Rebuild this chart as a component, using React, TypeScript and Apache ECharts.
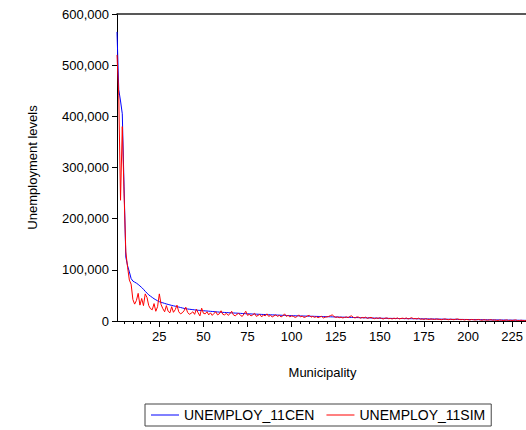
import React, { useEffect, useRef } from "react";
import * as echarts from "echarts";

const cenValues: number[] = [
  565000, 452000, 430000, 405000, 262000, 125000, 108000, 96000, 83000, 78000,
  76000, 74000, 71500, 68500, 65500, 62000, 58000, 54500, 51000, 48500,
  46000, 43500, 41500, 39500, 37800, 36600, 35500, 34400, 33300, 32400,
  31400, 30500, 29700, 28900, 28100, 27300, 26400, 25500, 24700, 24000,
  23500, 23000, 22600, 22200, 21800, 21400, 21000, 20700, 20400, 20100,
  19800, 19500, 19200, 18900, 18600, 18300, 18000, 17700, 17400, 17100,
  16900, 16700, 16500, 16300, 16100, 15900, 15700, 15500, 15300, 15100,
  14900, 14700, 14500, 14300, 14100, 13950, 13800, 13650, 13500, 13350,
  13200, 13050, 12900, 12750, 12600, 12450, 12300, 12150, 12000, 11850,
  11700, 11550, 11400, 11250, 11100, 10950, 10800, 10650, 10500, 10400,
  10300, 10200, 10100, 10000, 9900, 9800, 9700, 9600, 9500, 9400,
  9300, 9200, 9100, 9000, 8900, 8800, 8700, 8600, 8500, 8400,
  8300, 8200, 8100, 8000, 7900, 7800, 7700, 7600, 7500, 7400,
  7300, 7200, 7100, 7000, 6900, 6800, 6700, 6600, 6500, 6400,
  6300, 6200, 6100, 6000, 5900, 5800, 5700, 5600, 5500, 5400,
  5350, 5300, 5250, 5200, 5150, 5100, 5050, 5000, 4950, 4900,
  4850, 4800, 4750, 4700, 4650, 4600, 4550, 4500, 4450, 4400,
  4350, 4300, 4250, 4200, 4150, 4100, 4050, 4000, 3950, 3900,
  3850, 3800, 3750, 3700, 3650, 3600, 3550, 3500, 3450, 3400,
  3350, 3300, 3250, 3200, 3150, 3100, 3050, 3000, 2950, 2900,
  2850, 2800, 2750, 2700, 2650, 2600, 2550, 2500, 2450, 2400,
  2350, 2300, 2250, 2200, 2150, 2100, 2050, 2000, 1950, 1900,
  1850, 1800, 1750, 1700, 1650, 1600, 1550, 1500, 1450, 1400,
  1350, 1300, 1250, 1200,
];

const simValues: number[] = [
  520000, 440000, 236000, 380000, 250000, 135000, 105000, 80000, 72000, 42000,
  33000, 40000, 54000, 31000, 44000, 30000, 53000, 46000, 30000, 24000,
  22000, 34000, 19000, 28000, 53000, 32000, 24000, 18000, 30000, 19000,
  16000, 28000, 17000, 22000, 31000, 18000, 14000, 16000, 20000, 27000,
  17000, 13000, 15000, 18000, 13000, 23000, 16000, 10000, 25000, 15000,
  14000, 18000, 12000, 16000, 11000, 15000, 18000, 12000, 14000, 20000,
  13000, 12000, 15000, 11000, 14000, 19000, 12000, 10000, 13000, 15000,
  11000, 9000, 14000, 19000, 11000, 13000, 10000, 12000, 15000, 9000,
  11000, 13000, 8000, 12000, 10000, 14000, 9000, 11000, 8000, 10000,
  12000, 9000, 11000, 8000, 10000, 14000, 9000, 11000, 8000, 10000,
  9000, 7000, 8500, 12000, 8000, 9500, 7000, 8000, 10000, 11000,
  7500, 9000, 7000, 8500, 6500, 8000, 9000, 6000, 7500, 8000,
  9000, 10500, 12000, 9000, 7000, 8000, 6500, 7500, 6000, 7000,
  8000, 6500, 9000, 10000, 7000, 6000, 8000, 7500, 5500, 7000,
  6000, 7500, 5000, 6500, 7000, 5500, 4500, 6000, 5000, 6500,
  5000, 4000, 5500, 6000, 4500, 5000, 4000, 5500, 4500, 6000,
  4000, 5000, 5500, 4500, 6000, 4000, 5000, 6500, 4500, 5000,
  4000, 5500, 3500, 4000, 3000, 4500, 3500, 3000, 4000, 3500,
  3000, 4000, 3500, 3000, 2500, 3500, 4000, 3000, 2500, 3500,
  3000, 2500, 3500, 4000, 3000, 2500, 3000, 2000, 3000, 2500,
  2000, 3000, 2500, 2000, 2500, 3000, 2000, 1500, 2500, 2000,
  1500, 2000, 2500, 1500, 2000, 1500, 1000, 2000, 1500, 1000,
  1500, 2000, 1000, 1500, 1000, 1500, 2000, 1000, 500, 1500,
  1000, 500, 1000, 500,
];

const seriesNames: string[] = ["UNEMPLOY_11CEN", "UNEMPLOY_11SIM"];
const majorTicks: number[] = [25, 50, 75, 100, 125, 150, 175, 200, 225];
const minorTicks: number[] = [
  5, 10, 15, 20, 25, 30, 35, 40, 45, 50, 55, 60, 65, 70, 75, 80, 85, 90, 95, 100,
  105, 110, 115, 120, 125, 130, 135, 140, 145, 150, 155, 160, 165, 170, 175, 180,
  185, 190, 195, 200, 205, 210, 215, 220, 225, 230,
];

const FONT = "Liberation Sans, Arial, sans-serif";

export default function App() {
  const ref = useRef<HTMLDivElement>(null);
  useEffect(() => {
    if (!ref.current) return;
    const chart = echarts.init(ref.current, undefined, { renderer: "svg" });
    const toPairs = (arr: number[]) => arr.map((v, i) => [i + 1, v]);
    const xMin = 1;
    const xMax = 234;
    chart.setOption({
      animation: false,
      backgroundColor: "#ffffff",
      textStyle: { fontFamily: FONT },
      grid: { left: 117, top: 14, right: 0, bottom: 109, containLabel: false },
      legend: {
        left: 145,
        top: 404,
        padding: [4, 6, 4, 6],
        borderColor: "#444",
        borderWidth: 1,
        borderRadius: 0,
        itemGap: 12,
        itemWidth: 28,
        itemHeight: 1,
        icon: "rect",
        textStyle: { fontFamily: FONT, fontSize: 14, color: "#000" },
        data: seriesNames,
      },
      xAxis: [
        {
          type: "value",
          min: xMin,
          max: xMax,
          position: "bottom",
          axisLine: { show: true, onZero: false, lineStyle: { color: "#000", width: 1 } },
          axisTick: { show: true, length: 3, customValues: minorTicks, lineStyle: { color: "#000" } },
          axisLabel: { show: false },
          splitLine: { show: false },
          name: "Municipality",
          nameLocation: "middle",
          nameGap: 45,
          nameTextStyle: { fontFamily: FONT, fontSize: 13, color: "#000" },
        },
        {
          type: "value",
          min: xMin,
          max: xMax,
          position: "bottom",
          axisLine: { show: false, onZero: false },
          axisTick: { show: true, length: 6, customValues: majorTicks, lineStyle: { color: "#000" } },
          axisLabel: {
            show: true,
            customValues: majorTicks,
            margin: 9,
            fontFamily: FONT,
            fontSize: 13,
            color: "#000",
          },
          splitLine: { show: false },
        },
        {
          type: "value",
          min: xMin,
          max: xMax,
          position: "top",
          axisLine: { show: true, onZero: false, lineStyle: { color: "#222", width: 1.5 } },
          axisTick: { show: false },
          axisLabel: { show: false },
          splitLine: { show: false },
        },
      ],
      yAxis: {
        type: "value",
        min: 0,
        max: 600000,
        interval: 100000,
        axisLine: { show: true, onZero: false, lineStyle: { color: "#000", width: 1 } },
        axisTick: { show: true, length: 5, lineStyle: { color: "#000" } },
        axisLabel: {
          margin: 8,
          fontFamily: FONT,
          fontSize: 13,
          color: "#000",
          formatter: (v: number) => v.toLocaleString("en-US"),
        },
        splitLine: { show: false },
        name: "Unemployment levels",
        nameLocation: "middle",
        nameGap: 78,
        nameTextStyle: { fontFamily: FONT, fontSize: 13, color: "#000" },
      },
      series: [
        {
          name: seriesNames[0],
          type: "line",
          xAxisIndex: 0,
          data: toPairs(cenValues),
          showSymbol: false,
          symbol: "none",
          color: "#0000ff",
          lineStyle: { color: "#0000ff", width: 1 },
        },
        {
          name: seriesNames[1],
          type: "line",
          xAxisIndex: 0,
          data: toPairs(simValues),
          showSymbol: false,
          symbol: "none",
          color: "#ff0000",
          lineStyle: { color: "#ff0000", width: 1 },
        },
      ],
    });
    return () => chart.dispose();
  }, []);
  return (
    <div style={{ position: "fixed", left: 0, top: 0, width: 526, height: 430, overflow: "hidden", background: "#fff" }}>
      <div ref={ref} style={{ width: 528, height: 430 }} />
    </div>
  );
}
